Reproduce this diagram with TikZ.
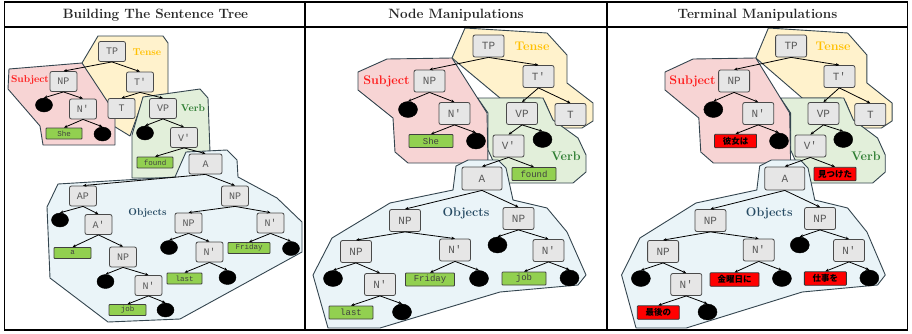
\documentclass[tikz,border=0pt]{standalone}
\usepackage{fontspec}
\setmonofont{Liberation Mono}
\newfontfamily\cjk{Noto Sans CJK JP}
\usetikzlibrary{arrows.meta,shapes.geometric}
\definecolor{tensefill}{HTML}{FFF2CC}
\definecolor{subjfill}{HTML}{F7D4D4}
\definecolor{verbfill}{HTML}{E2EFDA}
\definecolor{objfill}{HTML}{EAF4F8}
\definecolor{regline}{HTML}{34454F}
\definecolor{ntfill}{HTML}{E6E6E6}
\definecolor{ntline}{HTML}{4A4A4A}
\definecolor{nttext}{HTML}{5A5A5A}
\definecolor{termgreen}{HTML}{92D050}
\definecolor{termred}{HTML}{FF0000}
\definecolor{subjcol}{HTML}{FF1A1A}
\definecolor{tensecol}{HTML}{FFC000}
\definecolor{verbcol}{HTML}{2E7D32}
\definecolor{objcol}{HTML}{264A63}
\tikzset{
  region/.style={draw=regline, line width=0.9pt, line join=round},
  frame/.style={draw=black, line width=1.3pt},
  title/.style={font=\fontsize{13.5}{15}\selectfont\bfseries, text=black!85, inner sep=0pt},
  labA/.style={font=\fontsize{10}{12}\selectfont\bfseries, inner sep=0pt},
  labB/.style={font=\fontsize{12.5}{14}\selectfont\bfseries, inner sep=0pt},
  ntbase/.style={draw=ntline, fill=ntfill, rounded corners=2pt, line width=0.8pt, text=nttext, inner sep=0pt},
  ntA/.style={ntbase, minimum width=27pt, minimum height=20pt, font=\fontsize{10}{10}\ttfamily},
  ntB/.style={ntbase, minimum width=31pt, minimum height=22pt, font=\fontsize{11}{11}\ttfamily},
  leafA/.style={ellipse, fill=black, draw=black, minimum width=17pt, minimum height=14pt, inner sep=0pt},
  leafB/.style={ellipse, fill=black, draw=black, minimum width=19pt, minimum height=16pt, inner sep=0pt},
  termA/.style={draw=black!75, fill=termgreen, line width=0.8pt, rounded corners=0.8pt, minimum width=36pt, minimum height=11pt, inner sep=0pt, text=black!75, font=\fontsize{7.5}{7.5}\ttfamily},
  termG/.style={draw=black!75, fill=termgreen, line width=0.8pt, rounded corners=0.8pt, minimum width=44pt, minimum height=13pt, inner sep=0pt, text=black!75, font=\fontsize{9}{9}\ttfamily},
  termR/.style={draw=black!80, fill=termred, line width=0.8pt, rounded corners=0.8pt, minimum width=42pt, minimum height=13.5pt, inner xsep=3pt, inner ysep=0pt, text=black, font=\fontsize{8.5}{8.5}\cjk\bfseries},
  edge/.style={draw=black, line width=0.8pt, -{Stealth[length=3.5pt,width=3pt]}},
}
\newcommand{\NodePanel}[6]{%
  \filldraw[region, fill=tensefill] (452,58) -- (465,28) -- (547,33) -- (567,55) -- (567,83) -- (593,103) -- (593,121) -- (582,128) -- (556,128) -- (545,102) -- (540,98) -- (500,98) -- cycle;
  \filldraw[region, fill=verbfill] (477.5,98) -- (543,98) -- (553,120) -- (578,138) -- (586,155) -- (586,172) -- (573,183) -- (508,183) -- (495,165) -- (488,150) -- (488,113) -- cycle;
  \filldraw[region, fill=subjfill] (387,59) -- (452,58) -- (487,113) -- (488,163) -- (408,163) -- (395,152) -- (393,118) -- (358,90) -- (358,72) -- cycle;
  \filldraw[region, fill=objfill] (453,190) -- (456,166) -- (468,160) -- (498,160) -- (506,168) -- (513,200) -- (547,208) -- (567,232) -- (586,275) -- (578,285) -- (500,292) -- (380,328) -- (328,328) -- (313,275) -- (332,238) -- (390,203) -- cycle;
  \node[labB, text=subjcol] (lsubj) at (386.5,81) {Subject};
  \node[labB, text=tensecol] (ltense) at (532,46) {Tense};
  \node[labB, text=verbcol] (lverb) at (566,156) {Verb};
  \node[labB, text=objcol] (lobj) at (466,213) {Objects};
  \node[ntB] (TP) at (488.5,46) {TP};
  \node[ntB] (NPs) at (429.5,81) {NP};
  \node[ntB] (Tb) at (538.5,76.5) {T′};
  \node[leafB] (l1) at (408,109.5) {};
  \node[ntB] (Nbs) at (454.5,113.5) {N′};
  \node[ntB] (VP) at (522,113.5) {VP};
  \node[ntB] (T) at (570.5,114.5) {T};
  \node[#1] (she) at (431,141) {#2};
  \node[leafB] (l2) at (476,141) {};
  \node[ntB] (Vb) at (508.5,146) {V′};
  \node[leafB] (l3) at (542.5,139.5) {};
  \node[ntB, minimum width=40pt, minimum height=23pt] (A) at (482,178.5) {A};
  \node[#1] (found) at (534,174) {#3};
  \node[ntB] (NP1) at (405,220.5) {NP};
  \node[ntB] (NP2) at (518.5,218.5) {NP};
  \node[ntB] (NP3) at (356,251.5) {NP};
  \node[ntB] (Nb1) at (455,250) {N′};
  \node[leafB] (l4) at (497.5,245) {};
  \node[ntB] (Nb2) at (548.5,250.5) {N′};
  \node[leafB] (l5) at (333,278.5) {};
  \node[ntB] (Nb3) at (380,284.5) {N′};
  \node[#1, minimum width=49pt] (friday) at (430,279.5) {#4};
  \node[leafB] (l6) at (479,278.5) {};
  \node[#1] (job) at (524,278.5) {#5};
  \node[leafB] (l7) at (569.5,278) {};
  \node[#1] (last) at (351,312.5) {#6};
  \node[leafB] (l8) at (402,312) {};
  \foreach \p/\c in {TP/NPs, TP/Tb, NPs/l1, NPs/Nbs, Nbs/she, Nbs/l2, Tb/VP, Tb/T, VP/Vb, VP/l3, Vb/A, Vb/found, A/NP1, A/NP2, NP1/NP3, NP1/Nb1, NP3/l5, NP3/Nb3, Nb3/last, Nb3/l8, Nb1/friday, Nb1/l6, NP2/l4, NP2/Nb2, Nb2/job, Nb2/l7}
    \draw[edge] (\p.south) -- (\c.north);
}
\begin{document}
\begin{tikzpicture}[x=1pt,y=-1pt]
\useasboundingbox (0,0) rectangle (912,333);
\fill[white] (0,0) rectangle (912,333);
% ---------- panel 1 ----------
\begin{scope}[name prefix=p1-]
  \filldraw[region, fill=tensefill] (82,63) -- (98,36) -- (163,36) -- (168,43) -- (168,100) -- (143,100) -- (130,136) -- (112,125) -- (100,100) -- cycle;
  \filldraw[region, fill=verbfill] (143,97) -- (200,89) -- (208,98) -- (210,152) -- (190,178) -- (132,178) -- (132,135) -- cycle;
  \filldraw[region, fill=subjfill] (9,69) -- (82,63) -- (115,113) -- (115,145) -- (43,145) -- (40,126) -- (8,89) -- cycle;
  \filldraw[region, fill=objfill] (47,207) -- (58,184) -- (175,177) -- (186,152) -- (227,150) -- (237,160) -- (238,177) -- (277,198) -- (302,222) -- (302,252) -- (180,319) -- (108,322) -- (50,278) -- cycle;
  \node[labA, text=subjcol] (lsubj) at (30,80) {Subject};
  \node[labA, text=tensecol] (ltense) at (147,52) {Tense};
  \node[labA, text=verbcol] (lverb) at (193,108) {Verb};
  \node[labA, text=objcol] (lobj) at (147.5,213) {Objects};
  \node[ntA] (TP) at (112,51.5) {TP};
  \node[ntA] (NPs) at (63.5,81.5) {NP};
  \node[ntA] (Tb) at (140,82) {T′};
  \node[leafA] (l1) at (44,105) {};
  \node[ntA] (Nbs) at (83,109) {N′};
  \node[ntA] (T) at (121.5,108.5) {T};
  \node[ntA] (VP) at (163,108.5) {VP};
  \node[termA] (she) at (64,133.5) {She};
  \node[leafA] (l2) at (102.5,134) {};
  \node[leafA] (l3) at (145,133) {};
  \node[ntA] (Vb) at (184,137.5) {V′};
  \node[termA] (found) at (155,162.5) {found};
  \node[ntA, minimum width=33pt] (A) at (205.5,164) {A};
  \node[ntA] (AP) at (83,196) {AP};
  \node[ntA] (NPr) at (235,196) {NP};
  \node[leafA] (l4) at (60,220) {};
  \node[ntA] (Ab) at (98.5,224.5) {A′};
  \node[ntA] (NPm) at (188.5,223) {NP};
  \node[ntA] (Nbr) at (270.5,223) {N′};
  \node[termA, minimum width=37pt] (a) at (72.5,253) {a};
  \node[ntA] (NPl) at (123,257) {NP};
  \node[leafA] (l5) at (169,247.5) {};
  \node[ntA] (Nbm) at (209.5,252) {N′};
  \node[termA, minimum width=42pt] (friday) at (249,248) {Friday};
  \node[leafA] (l6) at (291,248.5) {};
  \node[leafA] (l7) at (105.5,281.5) {};
  \node[ntA] (Nbl) at (148.5,285.5) {N′};
  \node[termA, minimum width=35pt] (last) at (184.5,278.5) {last};
  \node[leafA] (l8) at (227.5,277.5) {};
  \node[termA, minimum width=37pt] (job) at (127.5,310) {job};
  \node[leafA] (l9) at (165.5,310) {};
  \foreach \p/\c in {TP/NPs, TP/Tb, NPs/l1, NPs/Nbs, Nbs/she, Nbs/l2, Tb/T, Tb/VP, VP/l3, VP/Vb, Vb/found, Vb/A, A/AP, A/NPr, AP/l4, AP/Ab, Ab/a, Ab/NPl, NPl/l7, NPl/Nbl, Nbl/job, Nbl/l9, NPr/NPm, NPr/Nbr, NPm/l5, NPm/Nbm, Nbm/last, Nbm/l8, Nbr/friday, Nbr/l6}
    \draw[edge] (\p.south) -- (\c.north);
\end{scope}
% ---------- panel 2 ----------
\begin{scope}[name prefix=p2-]
  \NodePanel{termG}{She}{found}{Friday}{job}{last}
\end{scope}
% ---------- panel 3 ----------
\begin{scope}[name prefix=p3-, shift={(319.2,0)}, xscale=0.966]
  \NodePanel{termR}{彼女は}{見つけた}{金曜日に}{仕事を}{最後の}
\end{scope}
% ---------- table frame ----------
\draw[frame] (4.5,2) rectangle (907.5,330);
\draw[frame] (4.5,27) -- (907.5,27);
\draw[frame] (305,2) -- (305,330);
\draw[frame] (607,2) -- (607,330);
\node[title] (t1) at (155.5,15) {Building The Sentence Tree};
\node[title] (t2) at (456,15) {Node Manipulations};
\node[title] (t3) at (757.5,15) {Terminal Manipulations};
\end{tikzpicture}
\end{document}
